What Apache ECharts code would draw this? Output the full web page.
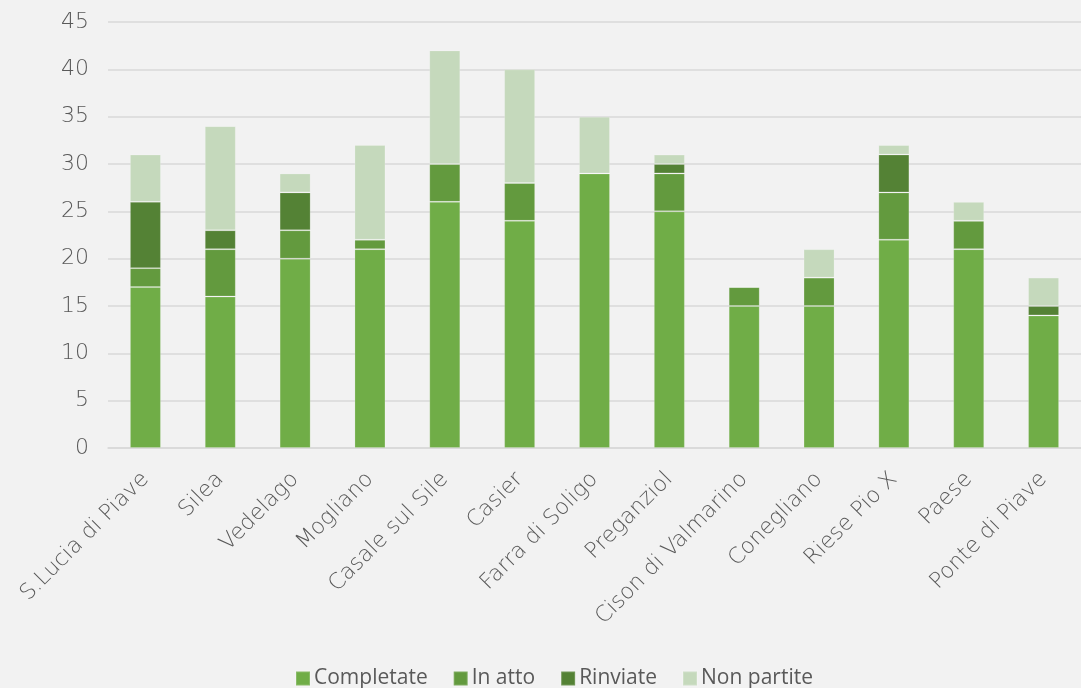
<!DOCTYPE html>
<html>
<head>
<meta charset="utf-8">
<script src="https://cdn.jsdelivr.net/npm/echarts@6/dist/echarts.min.js"></script>
<style>
  html, body { margin: 0; padding: 0; background: #f2f2f2; }
  #main-chart { width: 1081px; height: 688px; }
</style>
</head>
<body>
<div id="main-chart"></div>
<script>
const categories = ['S.Lucia di Piave', 'Silea', 'Vedelago', 'Mogliano', 'Casale sul Sile', 'Casier',
  'Farra di Soligo', 'Preganziol', 'Cison di Valmarino', 'Conegliano', 'Riese Pio X', 'Paese', 'Ponte di Piave']
const completate = [17, 16, 20, 21, 26, 24, 29, 25, 15, 15, 22, 21, 14]
const inAtto = [2, 5, 3, 1, 4, 4, 0, 4, 2, 3, 5, 3, 0]
const rinviate = [7, 2, 4, 0, 0, 0, 0, 1, 0, 0, 4, 0, 1]
const nonPartite = [5, 11, 2, 10, 12, 12, 6, 1, 0, 3, 1, 2, 3]

const colors = ['#70ad47', '#639a3e', '#548235', '#c5d9bc']
const labelFont = '"DejaVu Sans", sans-serif'

const chart = echarts.init(document.getElementById('main-chart'))
const mk = (name, data, color) => ({
  name: name,
  type: 'bar',
  stack: 'tot',
  data: data,
  barWidth: 31,
  itemStyle: { color: color, borderColor: 'rgba(255,255,255,0.18)', borderWidth: 1 },
  emphasis: { disabled: true }
})
chart.setOption({
  backgroundColor: '#f2f2f2',
  animation: false,
  color: colors,
  grid: { left: 108, right: 0, top: 22, bottom: 240 },
  legend: {
    bottom: -6,
    left: 290,
    itemWidth: 14,
    itemHeight: 14,
    itemGap: 25,
    icon: 'rect',
    textStyle: { color: '#595959', fontSize: 21, fontFamily: '"Open Sans", sans-serif', padding: [0, 0, 0, -1] },
    data: ['Completate', 'In atto', 'Rinviate', 'Non partite']
  },
  xAxis: {
    type: 'category',
    data: categories,
    axisLine: { lineStyle: { color: '#d9d9d9', width: 1.5 } },
    axisTick: { show: false },
    axisLabel: {
      interval: 0,
      rotate: 45,
      margin: 28,
      color: '#595959',
      fontSize: 22,
      fontWeight: 200,
      fontFamily: labelFont
    }
  },
  yAxis: {
    type: 'value',
    min: 0,
    max: 45,
    interval: 5,
    axisLine: { show: false },
    axisTick: { show: false },
    splitLine: { lineStyle: { color: '#d9d9d9', width: 1.5 } },
    axisLabel: {
      margin: 19,
      color: '#595959',
      fontSize: 22,
      fontWeight: 200,
      fontFamily: labelFont
    }
  },
  series: [
    mk('Completate', completate, colors[0]),
    mk('In atto', inAtto, colors[1]),
    mk('Rinviate', rinviate, colors[2]),
    mk('Non partite', nonPartite, colors[3])
  ]
})
</script>
</body>
</html>
